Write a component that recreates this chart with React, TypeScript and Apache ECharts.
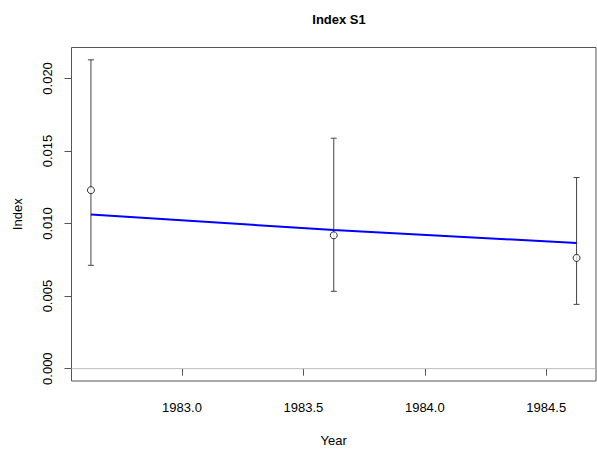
import React, { useEffect, useRef } from "react";
import * as echarts from "echarts";

const years = [1982.625, 1983.625, 1984.625];
const indexValues = [0.0123, 0.00919, 0.00763];
const lowerValues = [0.00712, 0.00533, 0.00443];
const upperValues = [0.02128, 0.01588, 0.01317];
const fittedValues = [0.01062, 0.00955, 0.00866];
const xTicks = [1983.0, 1983.5, 1984.0, 1984.5];
const yTicks = [0, 0.005, 0.01, 0.015, 0.02];
const zeroLine = [0, 0];

const X_MIN = 1982.545;
const X_MAX = 1984.705;
const FONT = "Liberation Sans, Arial, Helvetica, sans-serif";

export default function App() {
  const ref = useRef<HTMLDivElement>(null);
  useEffect(() => {
    if (!ref.current) return;
    const chart = echarts.init(ref.current, null, { renderer: "svg" });
    const errData = years.map((y, i) => [y, lowerValues[i], upperValues[i]]);
    chart.setOption({
      animation: false,
      backgroundColor: "#ffffff",
      textStyle: { fontFamily: FONT },
      title: {
        text: "Index S1",
        left: 334,
        top: 8,
        textAlign: "center",
        textStyle: { fontFamily: FONT, fontSize: 13, fontWeight: "bold", color: "#000" },
      },
      grid: {
        left: 71.5,
        top: 47.5,
        right: 1,
        bottom: 69,
        containLabel: false,
        outerBoundsMode: "none",
        show: true,
        borderColor: "#555",
        borderWidth: 1,
        backgroundColor: "transparent",
      },
      xAxis: {
        type: "value",
        min: X_MIN,
        max: X_MAX,
        name: "Year",
        nameLocation: "middle",
        nameGap: 53,
        nameTextStyle: { fontFamily: FONT, fontSize: 13, color: "#000" },
        axisLine: { show: false },
        splitLine: { show: false },
        axisTick: { show: true, length: 7, customValues: xTicks, lineStyle: { color: "#555" } },
        axisLabel: {
          customValues: xTicks,
          margin: 20,
          fontFamily: FONT,
          fontSize: 13,
          color: "#000",
          formatter: (v: number) => v.toFixed(1),
        },
      },
      yAxis: {
        type: "value",
        min: -0.00085,
        max: 0.02213,
        name: "Index",
        nameLocation: "middle",
        nameGap: 48,
        nameRotate: 90,
        nameTextStyle: { fontFamily: FONT, fontSize: 13, color: "#000" },
        axisLine: { show: false },
        splitLine: { show: false },
        axisTick: { show: true, length: 7, customValues: yTicks, lineStyle: { color: "#555" } },
        axisLabel: {
          customValues: yTicks,
          rotate: 90,
          margin: 17.5,
          fontFamily: FONT,
          fontSize: 13,
          color: "#000",
          formatter: (v: number) => v.toFixed(3),
        },
      },
      series: [
        {
          type: "line",
          z: 1,
          symbol: "none",
          silent: true,
          lineStyle: { color: "#bbbbbb", width: 1 },
          data: [
            [X_MIN, zeroLine[0]],
            [X_MAX, zeroLine[1]],
          ],
        },
        {
          type: "custom",
          z: 2,
          data: errData,
          renderItem: (params: any, api: any) => {
            const x = api.value(0);
            const lo = api.coord([x, api.value(1)]);
            const hi = api.coord([x, api.value(2)]);
            const cap = 3;
            const style = { stroke: "#444", lineWidth: 1 };
            return {
              type: "group",
              children: [
                { type: "line", shape: { x1: lo[0], y1: lo[1], x2: hi[0], y2: hi[1] }, style },
                { type: "line", shape: { x1: lo[0] - cap, y1: lo[1], x2: lo[0] + cap, y2: lo[1] }, style },
                { type: "line", shape: { x1: hi[0] - cap, y1: hi[1], x2: hi[0] + cap, y2: hi[1] }, style },
              ],
            };
          },
        },
        {
          type: "scatter",
          z: 3,
          symbol: "circle",
          symbolSize: 7,
          itemStyle: { color: "#ffffff", borderColor: "#000", borderWidth: 1 },
          data: years.map((y, i) => [y, indexValues[i]]),
        },
        {
          type: "line",
          z: 4,
          symbol: "none",
          lineStyle: { color: "#0000ff", width: 2 },
          data: years.map((y, i) => [y, fittedValues[i]]),
        },
      ],
    });
    return () => chart.dispose();
  }, []);
  return (
    <div
      ref={ref}
      style={{ position: "fixed", left: 0, top: 0, width: 597, height: 450, background: "#fff" }}
    />
  );
}
